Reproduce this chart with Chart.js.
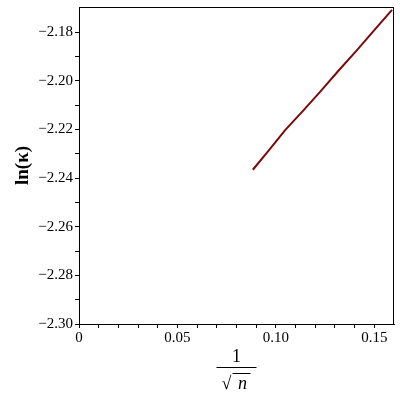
<!DOCTYPE html>
<html>
<head>
<meta charset="utf-8">
<script src="https://cdn.jsdelivr.net/npm/chart.js@4/dist/chart.umd.min.js"></script>
<style>
  html, body { margin: 0; padding: 0; background: #fff; }
  #wrap { width: 400px; height: 400px; }
</style>
</head>
<body>
<div id="wrap"><canvas id="myChart"></canvas></div>
<script>
// values: x = 1/sqrt(n), y = ln(kappa)
const invSqrtN = [0.0883, 0.0960, 0.1046, 0.1140, 0.1230, 0.1320, 0.1412, 0.1500, 0.1590]
const lnKappa = [-2.2366, -2.2290, -2.2204, -2.2122, -2.2041, -2.1957, -2.1874, -2.1792, -2.1709]

const xTicks = [0, 0.01, 0.02, 0.03, 0.04, 0.05, 0.06, 0.07, 0.08, 0.09, 0.10, 0.11, 0.12, 0.13, 0.14, 0.15]
const xLabels = {0: '0', 0.05: '0.05', 0.1: '0.10', 0.15: '0.15'}
const yTicks = [-2.30, -2.29, -2.28, -2.27, -2.26, -2.25, -2.24, -2.23, -2.22, -2.21, -2.20, -2.19, -2.18]
const yLabels = {'-2.3': '\u22122.30', '-2.28': '\u22122.28', '-2.26': '\u22122.26', '-2.24': '\u22122.24',
                 '-2.22': '\u22122.22', '-2.2': '\u22122.20', '-2.18': '\u22122.18'}

const serif = "'Liberation Serif', 'DejaVu Serif', serif"

const points = invSqrtN.map((x, i) => ({x, y: lnKappa[i]}))

// box around plot + the 1/sqrt(n) fraction under the x axis
const framePlugin = {
    id: 'frame',
    afterDraw(chart) {
        const c = chart.ctx
        const a = chart.chartArea
        c.save()
        c.strokeStyle = '#000'
        c.lineWidth = 1
        c.strokeRect(a.left + 0.5, a.top + 0.5, a.right - a.left - 1, a.bottom - a.top)

        const cx = (a.left + a.right) / 2
        c.fillStyle = '#000'
        c.textAlign = 'center'
        c.textBaseline = 'alphabetic'
        c.font = '18px ' + serif
        c.fillText('1', cx, 362)
        c.lineWidth = 1.2
        c.beginPath()
        c.moveTo(cx - 20, 367.5)
        c.lineTo(cx + 20, 367.5)
        c.stroke()
        c.font = '18px ' + serif
        c.fillText('\u221A', cx - 10, 389)
        c.font = 'italic 18px ' + serif
        c.fillText('n', cx + 6, 389)
        c.lineWidth = 1
        c.beginPath()
        c.moveTo(cx - 4, 373.5)
        c.lineTo(cx + 14, 373.5)
        c.stroke()
        c.restore()
    }
}

const data = {
    datasets: [{
        data: points,
        borderColor: '#7a0a0a',
        borderWidth: 2,
        pointRadius: 0,
        fill: false,
        tension: 0
    }]
}

const config = {
    type: 'line',
    data,
    options: {
        responsive: true,
        maintainAspectRatio: false,
        animation: false,
        layout: { padding: { top: 7, right: 6, left: 0, bottom: 0 } },
        plugins: {
            legend: { display: false },
            tooltip: { enabled: false }
        },
        scales: {
            x: {
                type: 'linear',
                min: 0,
                max: 0.16,
                afterBuildTicks: s => { s.ticks = xTicks.map(v => ({value: v})) },
                afterFit: s => { s.height = 76 },
                grid: { drawOnChartArea: false, tickLength: 4, color: '#000' },
                border: { color: '#000' },
                ticks: {
                    autoSkip: false,
                    maxRotation: 0,
                    padding: 1,
                    color: '#000',
                    font: { family: serif, size: 15 },
                    callback: v => xLabels[Math.round(v * 100) / 100] || ''
                }
            },
            y: {
                min: -2.3,
                max: -2.1697,
                afterBuildTicks: s => { s.ticks = yTicks.map(v => ({value: v})) },
                afterFit: s => { s.width = 79; s.paddingTop = 0; s.paddingBottom = 0 },
                grid: { drawOnChartArea: false, tickLength: 4, color: '#000' },
                border: { color: '#000' },
                title: {
                    display: true,
                    text: 'ln(\u03BA)',
                    color: '#000',
                    font: { family: serif, size: 19, weight: 'bold' },
                    padding: { top: 12, bottom: 4 }
                },
                ticks: {
                    autoSkip: false,
                    padding: 2,
                    color: '#000',
                    font: { family: serif, size: 15 },
                    callback: v => yLabels[String(Math.round(v * 100) / 100)] || ''
                }
            }
        }
    },
    plugins: [framePlugin]
}

const myChart = new Chart(document.getElementById('myChart').getContext('2d'), config)
</script>
</body>
</html>
